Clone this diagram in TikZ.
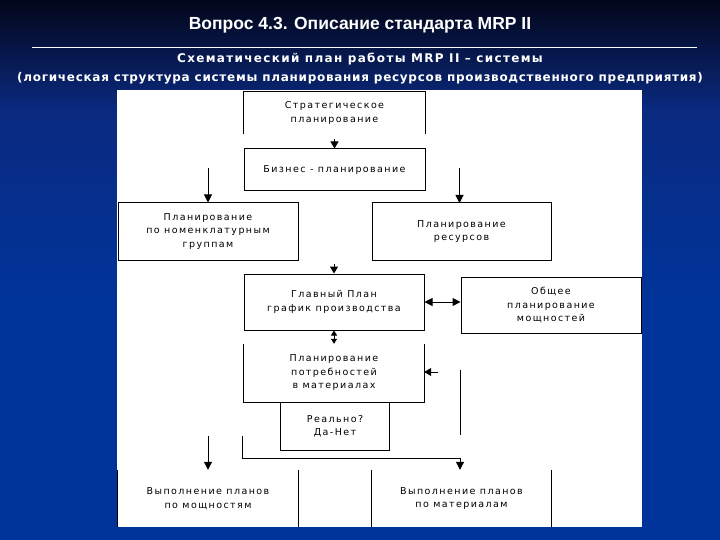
\documentclass[tikz,border=0pt]{standalone}
\usepackage{fontspec}
\usetikzlibrary{arrows.meta}
\newfontfamily\titlefont{Liberation Sans}
\newfontfamily\subfonta[LetterSpace=11]{DejaVu Sans}
\newfontfamily\subfontb[LetterSpace=6]{DejaVu Sans}
\newfontfamily\diagfont[LetterSpace=15]{DejaVu Sans}
\definecolor{bgtop}{HTML}{03061A}
\definecolor{bgmid}{HTML}{0A2A80}
\definecolor{bgbot}{HTML}{00349A}
\tikzset{
  boxfull/.style={draw, line width=1pt, rectangle, inner sep=0pt, align=center, font=\diagfont\fontsize{9.5}{13.5}\selectfont},
  boxopen/.style={rectangle, inner sep=0pt, align=center, font=\diagfont\fontsize{9.5}{13.5}\selectfont},
  side/.style={line width=1pt},
  conn/.style={line width=1pt, -{Triangle[width=8pt,length=8pt]}},
  headonly/.style={line width=1pt, -{Triangle[width=8pt,length=7pt]}},
  dblconn/.style={line width=1pt, {Triangle[width=8pt,length=8pt]}-{Triangle[width=8pt,length=8pt]}},
  smalldbl/.style={line width=0.8pt, {Triangle[width=6pt,length=5pt]}-{Triangle[width=6pt,length=5pt]}},
  titletext/.style={text=white, font=\titlefont\bfseries\fontsize{17.5}{20}\selectfont},
  subtexta/.style={text=white, font=\subfonta\bfseries\fontsize{12}{14}\selectfont},
  subtextb/.style={text=white, font=\subfontb\bfseries\fontsize{12}{14}\selectfont}
}
\begin{document}
\begin{tikzpicture}[x=1pt,y=-1pt]
\useasboundingbox (0,0) rectangle (720,540);
% background
\fill[bgbot] (0,0) rectangle (720,540);
\shade[top color=bgtop, bottom color=bgmid] (0,0) rectangle (720,110);
\shade[top color=bgmid, bottom color=bgbot] (0,110) rectangle (720,300);
% titles
\node[titletext] (title) at (360,25.5) {Вопрос 4.3. Описание стандарта MRP II};
\coordinate (ruleL) at (32,48);
\coordinate (ruleR) at (697,48);
\draw[white, line width=1pt] (ruleL) -- (ruleR);
\node[subtexta] (sub1) at (360,59) {Схематический план работы MRP II – системы};
\node[subtextb] (sub2) at (360,78) {(логическая структура системы планирования ресурсов производственного предприятия)};
% panel
\fill[white] (117,90) rectangle (642,527);
% boxes
\node[boxopen, minimum width=181pt, minimum height=42pt] (strat) at (334.5,113) {Стратегическое\\планирование};
\draw[side] (strat.south west) -- (strat.north west) -- (strat.north east) -- (strat.south east);
\node[boxfull, minimum width=181pt, minimum height=42pt] (biz) at (334.5,170) {Бизнес - планирование};
\node[boxfull, minimum width=180pt, minimum height=57pt] (nom) at (208,231.5) {Планирование\\по номенклатурным\\группам};
\node[boxfull, minimum width=179pt, minimum height=57pt] (res) at (461.5,231.5) {Планирование\\ресурсов};
\node[boxfull, minimum width=180pt, minimum height=56pt] (main) at (334,302) {Главный План\\график производства};
\node[boxfull, minimum width=180pt, minimum height=56pt] (cap) at (551,305) {Общее\\планирование\\мощностей};
\node[boxopen, minimum width=180pt, minimum height=58pt] (mrp) at (334,373) {Планирование\\потребностей\\в материалах};
\draw[side] (mrp.north west) -- (mrp.south west) -- (mrp.south east) -- (mrp.north east);
\node[boxopen, minimum width=108pt, minimum height=48pt] (real) at (335,426) {Реально?\\Да-Нет};
\draw[side] (real.north west) -- (real.south west) -- (real.south east) -- (real.north east);
\node[boxopen, minimum width=180pt, minimum height=57pt] (execcap) at (208,498.5) {Выполнение планов\\по мощностям};
\draw[side] (execcap.north west) -- (execcap.south west);
\draw[side] (execcap.north east) -- (execcap.south east);
\node[boxopen, minimum width=179pt, minimum height=57pt] (execmat) at (461.5,498.5) {Выполнение планов\\по материалам};
\draw[side] (execmat.north west) -- (execmat.south west);
\draw[side] (execmat.north east) -- (execmat.south east);
% connectors
\coordinate (a1s) at (334.5,139);
\draw[headonly] (a1s) -- (biz.north);
\coordinate (a2s) at (208,168);
\draw[conn] (a2s) -- (nom.north);
\coordinate (a3s) at (459.5,168);
\draw[conn] (a3s) -- (459.5,203);
\coordinate (a4s) at (334,264);
\draw[headonly] (a4s) -- (main.north);
\draw[dblconn] (main.east) -- (main.east -| cap.west);
\draw[smalldbl] (main.south) -- (mrp.north);
\coordinate (a5s) at (438,372);
\draw[headonly] (a5s) -- (mrp.east |- a5s);
\coordinate (v1t) at (460,370);
\coordinate (v1b) at (460,435);
\draw[side] (v1t) -- (v1b);
\coordinate (a6s) at (208,436);
\draw[conn] (a6s) -- (execcap.north);
\coordinate (a7s) at (242.7,436);
\coordinate (a7m) at (460,458.3);
\draw[conn] (a7s) |- (a7m) -- (a7m |- execmat.north);
\end{tikzpicture}
\end{document}
